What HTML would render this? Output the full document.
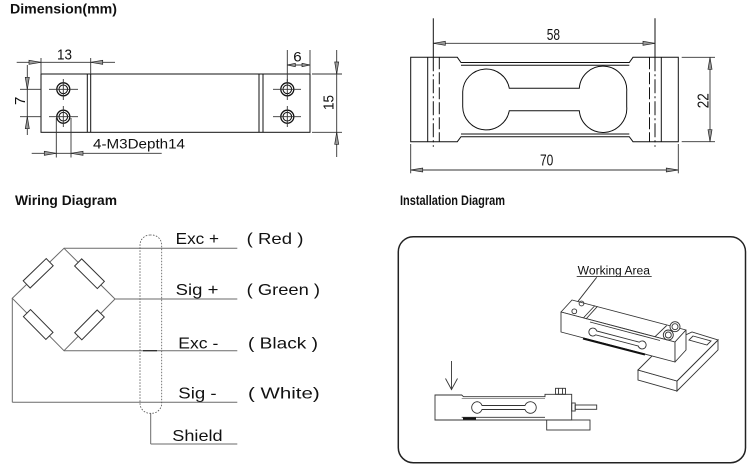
<!DOCTYPE html>
<html>
<head>
<meta charset="utf-8">
<style>
html,body{margin:0;padding:0;background:#fff;}
body{width:752px;height:465px;overflow:hidden;}
svg{display:block;}
.t{font-family:"Liberation Sans",sans-serif;}
.d{font-family:"Liberation Sans Narrow","Liberation Sans",sans-serif;}
</style>
</head>
<body>
<svg width="752" height="465" viewBox="0 0 752 465" xmlns="http://www.w3.org/2000/svg">
<rect width="752" height="465" fill="#fff"/>

<!-- Titles -->
<text class="t" x="10" y="13.5" font-size="13.5" font-weight="bold" fill="#111" textLength="107" lengthAdjust="spacingAndGlyphs">Dimension(mm)</text>
<text class="t" x="15" y="205" font-size="13.5" font-weight="bold" fill="#111" textLength="102" lengthAdjust="spacingAndGlyphs">Wiring Diagram</text>
<text class="t" x="400" y="205" font-size="13.5" font-weight="bold" fill="#111" textLength="105" lengthAdjust="spacingAndGlyphs">Installation Diagram</text>

<!-- ============ LEFT DIMENSION DRAWING ============ -->
<g stroke="#111" stroke-width="1" fill="none">
  <rect x="41" y="74" width="269" height="58.3"/>
  <line x1="87.3" y1="74" x2="87.3" y2="132.3"/>
  <line x1="90.7" y1="74" x2="90.7" y2="132.3"/>
  <line x1="259" y1="74" x2="259" y2="132.3"/>
  <line x1="263" y1="74" x2="263" y2="132.3"/>
  <!-- holes -->
  <circle cx="63.3" cy="89.3" r="6.5" stroke-width="1.3"/>
  <circle cx="63.3" cy="89.3" r="4.3"/>
  <circle cx="63.3" cy="116.7" r="6.5" stroke-width="1.3"/>
  <circle cx="63.3" cy="116.7" r="4.3"/>
  <circle cx="287.3" cy="89.3" r="6.5" stroke-width="1.3"/>
  <circle cx="287.3" cy="89.3" r="4.3"/>
  <circle cx="287.3" cy="116.7" r="6.5" stroke-width="1.3"/>
  <circle cx="287.3" cy="116.7" r="4.3"/>
</g>
<g stroke="#333" stroke-width="0.9" fill="none">
  <!-- crosshairs -->
  <line x1="49" y1="89.3" x2="78" y2="89.3"/>
  <line x1="63.3" y1="79" x2="63.3" y2="100"/>
  <line x1="49" y1="116.7" x2="78" y2="116.7"/>
  <line x1="63.3" y1="106" x2="63.3" y2="127"/>
  <line x1="273" y1="89.3" x2="301" y2="89.3"/>
  <line x1="287.3" y1="79" x2="287.3" y2="100"/>
  <line x1="273" y1="116.7" x2="301" y2="116.7"/>
  <line x1="287.3" y1="106" x2="287.3" y2="127"/>
  <!-- dim 13 -->
  <line x1="16.7" y1="62.3" x2="115" y2="62.3"/>
  <line x1="41" y1="58" x2="41" y2="74"/>
  <line x1="90.7" y1="58" x2="90.7" y2="74"/>
  <!-- dim 7 -->
  <line x1="27.3" y1="65" x2="27.3" y2="135"/>
  <line x1="20" y1="89.3" x2="41" y2="89.3"/>
  <line x1="20" y1="116.7" x2="41" y2="116.7"/>
  <!-- leader 4-M3 -->
  <line x1="31.7" y1="153.3" x2="161.7" y2="153.3"/>
  <line x1="56.3" y1="118" x2="56.3" y2="157.5"/>
  <line x1="71" y1="118" x2="71" y2="157.5"/>
  <!-- dim 6 -->
  <line x1="287.3" y1="65" x2="310" y2="65"/>
  <line x1="287.3" y1="50" x2="287.3" y2="82"/>
  <line x1="310" y1="50" x2="310" y2="74"/>
  <!-- dim 15 -->
  <line x1="336.7" y1="50" x2="336.7" y2="157"/>
  <line x1="312" y1="74" x2="342" y2="74"/>
  <line x1="312" y1="132.3" x2="342" y2="132.3"/>
</g>
<g fill="#999" stroke="#222" stroke-width="0.7">
  <polygon points="41,62.3 29,60.3 29,64.3"/>
  <polygon points="90.7,62.3 102.7,60.3 102.7,64.3"/>
  <polygon points="27.3,89.3 25.3,77.3 29.3,77.3"/>
  <polygon points="27.3,116.7 25.3,128.7 29.3,128.7"/>
  <polygon points="56.3,153.3 44.3,151.3 44.3,155.3"/>
  <polygon points="71,153.3 83,151.3 83,155.3"/>
  <polygon points="287.3,65 295.3,63.3 295.3,66.7"/>
  <polygon points="310,65 302,63.3 302,66.7"/>
  <polygon points="336.7,74 334.7,62 338.7,62"/>
  <polygon points="336.7,132.3 334.7,144.3 338.7,144.3"/>
</g>
<g fill="#111">
  <text class="d" x="57" y="59.3" font-size="15" textLength="15" lengthAdjust="spacingAndGlyphs">13</text>
  <text class="d" x="293.3" y="61.7" font-size="14" textLength="8.4" lengthAdjust="spacingAndGlyphs">6</text>
  <text class="d" transform="translate(25,100.8) rotate(-90)" x="0" y="0" font-size="15" text-anchor="middle">7</text>
  <text class="d" transform="translate(333.3,102.5) rotate(-90)" x="-7.5" y="0" font-size="15" textLength="15" lengthAdjust="spacingAndGlyphs">15</text>
  <text class="t" x="93" y="148.5" font-size="14" textLength="92" lengthAdjust="spacingAndGlyphs">4-M3Depth14</text>
</g>

<!-- ============ RIGHT DIMENSION DRAWING ============ -->
<g stroke="#111" stroke-width="1" fill="none">
  <path d="M410.7 57.3 L457.3 57.3 L461 62.5 L629.3 62.5 L633 57.3 L678.3 57.3 L678.3 141.7 L633 141.7 L629.3 136.7 L461 136.7 L457.3 141.7 L410.7 141.7 Z"/>
  <line x1="461" y1="65.3" x2="629.3" y2="65.3"/>
  <line x1="461" y1="134" x2="629.3" y2="134"/>
  <path d="M509.3 88.3 A23.5 23.5 0 0 0 462.7 91.6 L462.7 106.7 A23.5 23.5 0 0 0 509.3 110.7 L579.3 110.7 A23.5 23.5 0 0 0 626.7 106.7 L626.7 91.6 A23.5 23.5 0 0 0 579.3 88.3 Z"/>
  <line x1="427.7" y1="57.3" x2="427.7" y2="141.7"/>
  <line x1="439.3" y1="57.3" x2="439.3" y2="141.7" stroke-dasharray="12,3"/>
  <line x1="433.3" y1="18.3" x2="433.3" y2="57.3"/>
  <line x1="433.3" y1="57.3" x2="433.3" y2="146.7" stroke-dasharray="14,3,2,3"/>
  <line x1="661.3" y1="57.3" x2="661.3" y2="141.7"/>
  <line x1="649.5" y1="57.3" x2="649.5" y2="141.7" stroke-dasharray="12,3"/>
  <line x1="655" y1="18.3" x2="655" y2="57.3"/>
  <line x1="655" y1="57.3" x2="655" y2="146.7" stroke-dasharray="14,3,2,3"/>
</g>
<g stroke="#333" stroke-width="0.9" fill="none">
  <line x1="433.3" y1="43.3" x2="655" y2="43.3"/>
  <line x1="410.7" y1="170" x2="678.3" y2="170"/>
  <line x1="410.7" y1="144" x2="410.7" y2="173.3"/>
  <line x1="678.3" y1="144" x2="678.3" y2="173.3"/>
  <line x1="710" y1="57.3" x2="710" y2="141.7"/>
  <line x1="681.7" y1="57.3" x2="715" y2="57.3"/>
  <line x1="681.7" y1="141.7" x2="715" y2="141.7"/>
</g>
<g fill="#999" stroke="#222" stroke-width="0.7">
  <polygon points="433.3,43.3 445.3,41.3 445.3,45.3"/>
  <polygon points="655,43.3 643,41.3 643,45.3"/>
  <polygon points="410.7,170 422.7,168 422.7,172"/>
  <polygon points="678.3,170 666.3,168 666.3,172"/>
  <polygon points="710,57.3 708,69.3 712,69.3"/>
  <polygon points="710,141.7 708,129.7 712,129.7"/>
</g>
<g fill="#111">
  <text class="d" x="546.7" y="40" font-size="16" textLength="13.3" lengthAdjust="spacingAndGlyphs">58</text>
  <text class="d" x="540" y="165.7" font-size="16" textLength="13.3" lengthAdjust="spacingAndGlyphs">70</text>
  <text class="d" transform="translate(708.3,100.8) rotate(-90)" x="-7.5" y="0" font-size="16" textLength="15" lengthAdjust="spacingAndGlyphs">22</text>
</g>

<!-- ============ WIRING DIAGRAM ============ -->
<g stroke="#6a6a6a" stroke-width="1" fill="none">
  <!-- bridge -->
  <polygon points="64,248.3 115,299 64,350.7 12.3,298.3"/>
  <line x1="64" y1="248.3" x2="237.3" y2="248.3"/>
  <line x1="115" y1="299" x2="237.3" y2="299"/>
  <line x1="64" y1="350.7" x2="237.3" y2="350.7"/>
  <line x1="12.3" y1="298.3" x2="12.3" y2="402.3"/>
  <line x1="12.3" y1="402.3" x2="237.3" y2="402.3"/>
  <!-- shield lead -->
  <line x1="150.7" y1="413.3" x2="150.7" y2="444"/>
  <line x1="150.7" y1="444" x2="237.3" y2="444"/>
</g>
<g stroke="#333" stroke-width="1" fill="#fff">
  <rect x="22.2" y="268.3" width="32" height="10" transform="rotate(-44 38.2 273.3)"/>
  <rect x="73.5" y="268.7" width="32" height="10" transform="rotate(44.8 89.5 273.7)"/>
  <rect x="22.2" y="319.5" width="32" height="10" transform="rotate(45.4 38.2 324.5)"/>
  <rect x="73.5" y="319.9" width="32" height="10" transform="rotate(-45.4 89.5 324.9)"/>
</g>
<rect x="140" y="235" width="21.7" height="178.3" rx="10" ry="10" fill="none" stroke="#555" stroke-width="0.8" stroke-dasharray="1.6,1.4"/>
<line x1="143" y1="350.7" x2="157" y2="350.7" stroke="#222" stroke-width="1.2"/>
<g fill="#111" class="t" font-size="16">
  <text class="t" x="175.7" y="244" textLength="43.3" lengthAdjust="spacingAndGlyphs">Exc +</text>
  <text class="t" x="246.7" y="244" textLength="56.7" lengthAdjust="spacingAndGlyphs">( Red )</text>
  <text class="t" x="175.7" y="295" textLength="42.7" lengthAdjust="spacingAndGlyphs">Sig +</text>
  <text class="t" x="246.7" y="295" textLength="73.3" lengthAdjust="spacingAndGlyphs">( Green )</text>
  <text class="t" x="178.3" y="348.3" textLength="40" lengthAdjust="spacingAndGlyphs">Exc -</text>
  <text class="t" x="248" y="348.3" textLength="70" lengthAdjust="spacingAndGlyphs">( Black )</text>
  <text class="t" x="178.3" y="398.3" textLength="38.3" lengthAdjust="spacingAndGlyphs">Sig -</text>
  <text class="t" x="248" y="398.3" textLength="71.7" lengthAdjust="spacingAndGlyphs">( White)</text>
  <text class="t" x="172.3" y="441" textLength="50.3" lengthAdjust="spacingAndGlyphs">Shield</text>
</g>

<!-- ============ INSTALLATION DIAGRAM ============ -->
<rect x="398.3" y="236.7" width="347.2" height="226" rx="15" ry="15" fill="none" stroke="#222" stroke-width="1.5"/>
<text class="t" x="577.7" y="274.3" font-size="11.5" fill="#111" textLength="72.3" lengthAdjust="spacingAndGlyphs">Working Area</text>
<g stroke="#333" stroke-width="0.9" fill="none">
  <line x1="576.7" y1="276.6" x2="651.7" y2="276.6"/>
  <line x1="596.7" y1="277.3" x2="577.7" y2="301.7"/>
</g>

<!-- base plate (upper) -->
<g stroke="#333" stroke-width="0.9" fill="#fff">
  <polygon points="638,370 677,381 677,391 638,380"/>
  <polygon points="677,381 718,340 718,350 677,391"/>
  <polygon points="638,370 662,346 692,332 718,340 677,381"/>
  <polygon points="693,336 711,341 707,345 689,340" fill="none"/>
</g>
<!-- upper load cell -->
<g stroke="#333" stroke-width="0.9" fill="#fff" stroke-linejoin="round">
  <!-- top face -->
  <polygon points="561,312 572,300 686,330 675,342"/>
  <!-- front face -->
  <polygon points="561,312 675,342 675,362 561,332"/>
  <!-- right end face -->
  <polygon points="675,342 686,330 686,350 675,362"/>
</g>
<g stroke="#333" stroke-width="0.9" fill="none">
  <line x1="583.3" y1="318" x2="595" y2="305.5"/>
  <line x1="586" y1="319" x2="597.5" y2="306.3"/>
  <line x1="655" y1="336.7" x2="666.7" y2="325.5"/>
  <line x1="590" y1="322" x2="660" y2="340.5"/>
  <line x1="583" y1="338.5" x2="645" y2="354.5" stroke="#111" stroke-width="2"/>
  <circle cx="581.5" cy="303.5" r="2.4"/>
  <circle cx="574.3" cy="311.3" r="2.4"/>
  <g transform="rotate(14.7 617.5 338.5)">
    <path d="M595.5 336.5 A4 4 0 1 0 595.5 340.5 L639.5 340.5 A4 4 0 1 0 639.5 336.5 Z"/>
  </g>
  <circle cx="675" cy="326.7" r="5" fill="#fff"/>
  <circle cx="675" cy="326.7" r="3"/>
  <circle cx="668.3" cy="335" r="5" fill="#fff"/>
  <circle cx="668.3" cy="335" r="3"/>
</g>

<!-- lower load cell -->
<g stroke="#333" stroke-width="0.9" fill="none">
  <line x1="451.5" y1="361" x2="451.5" y2="389.5"/>
  <polyline points="445.5,378.5 451.5,389.5 457.5,378.5"/>
  <path d="M435 395 L461.7 395 L463.5 396.7 L545 396.7 L545 394.3 L571.7 394.3 L571.7 420 L435 420 Z" fill="#fff"/>
  <line x1="461.7" y1="417.3" x2="545" y2="417.3"/>
  <line x1="463" y1="418.5" x2="476" y2="418.5" stroke="#111" stroke-width="2"/>
  <line x1="461.7" y1="398.5" x2="545" y2="398.5" stroke-width="0.6"/>
  <path d="M477.5 401.7 A5.8 5.8 0 1 0 477.5 413.3 A5.8 5.8 0 0 0 482 409.5 L525 409.5 A5.8 5.8 0 1 0 525 405.5 L482 405.5 A5.8 5.8 0 0 0 477.5 401.7 Z"/>
  <rect x="555.5" y="388.3" width="10" height="6"/>
  <line x1="558.5" y1="388.3" x2="558.5" y2="394.3"/>
  <line x1="562.5" y1="388.3" x2="562.5" y2="394.3"/>
  <rect x="571.7" y="403" width="3.5" height="8"/>
  <rect x="575.2" y="405" width="21.5" height="4.3"/>
  <rect x="546.7" y="420" width="43.3" height="10"/>
</g>
</svg>
</body>
</html>
